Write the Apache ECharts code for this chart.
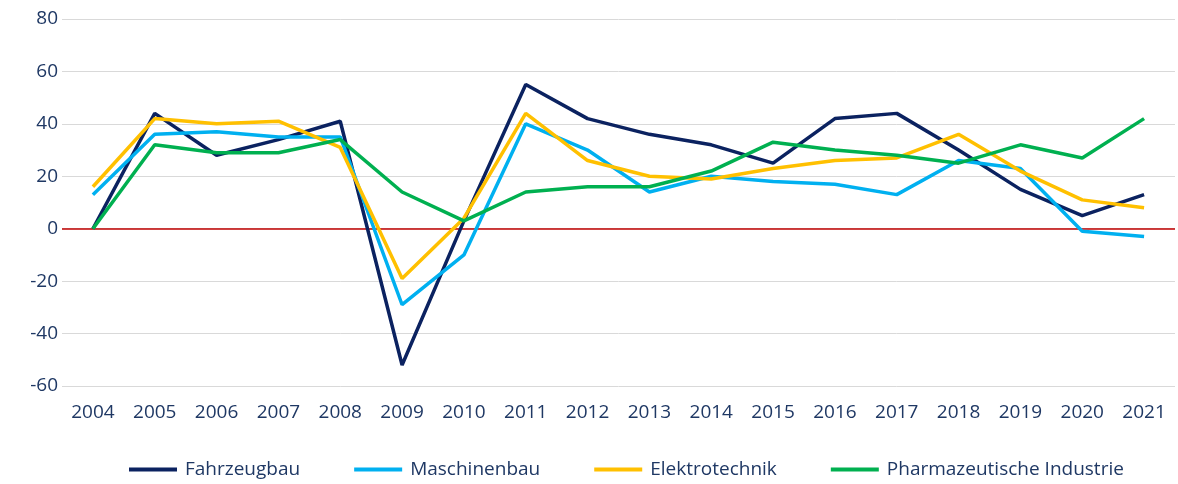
<!DOCTYPE html>
<html><head><meta charset="utf-8">
<script src="https://cdn.jsdelivr.net/npm/echarts@6/dist/echarts.min.js"></script>
<style>html,body{margin:0;padding:0;background:#fff}#c{width:1178px;height:484px}</style>
</head><body><div id="c"></div>
<script>
const years = ['2004','2005','2006','2007','2008','2009','2010','2011','2012','2013','2014','2015','2016','2017','2018','2019','2020','2021'];
const fahrzeugbau = [0,44,28,34,41,-52,3,55,42,36,32,25,42,44,30,15,5,13];
const maschinenbau = [13,36,37,35,35,-29,-10,40,30,14,20,18,17,13,26,23,-1,-3];
const elektrotechnik = [16,42,40,41,31,-19,4,44,26,20,19,23,26,27,36,22,11,8];
const pharma = [0,32,29,29,34,14,3,14,16,16,22,33,30,28,25,32,27,42];
const names = ['Fahrzeugbau','Maschinenbau','Elektrotechnik','Pharmazeutische Industrie'];
const colors = ['#0b2260','#00b0f0','#ffc000','#00b050'];
const txt = '#1f3864';
const font = 'Open Sans';
const chart = echarts.init(document.getElementById('c'));
const mk = (i, d) => ({
  name: names[i], type: 'line', data: d, symbol: 'none', z: 3+i,
  lineStyle: {width: 3.5, color: colors[i]}, itemStyle: {color: colors[i]}
});
const s = [mk(0,fahrzeugbau), mk(1,maschinenbau), mk(2,elektrotechnik), mk(3,pharma)];
s[0].markLine = {silent: true, symbol: 'none', label: {show: false},
  lineStyle: {color: '#c00000', width: 1.5, type: 'solid'}, data: [{yAxis: 0}], z: 2};
chart.setOption({
  animation: false,
  textStyle: {fontFamily: font},
  grid: {left: 62, right: 3, top: 19, bottom: 98},
  legend: {
    data: names, left: 124, top: 455, itemWidth: 48, itemHeight: 4, itemGap: 54,
    icon: 'rect', textStyle: {color: txt, fontSize: 19, fontFamily: font, padding: [0,0,0,3]}
  },
  xAxis: {
    type: 'category', data: years, boundaryGap: true,
    axisLine: {show: false, onZero: false}, axisTick: {show: false},
    axisLabel: {color: txt, fontSize: 19, margin: 17}
  },
  yAxis: {
    type: 'value', min: -60, max: 80, interval: 20,
    axisLine: {show: false}, axisTick: {show: false},
    axisLabel: {color: txt, fontSize: 19, margin: 4},
    splitLine: {lineStyle: {color: '#d9d9d9', width: 1}}
  },
  series: s
});
</script></body></html>
